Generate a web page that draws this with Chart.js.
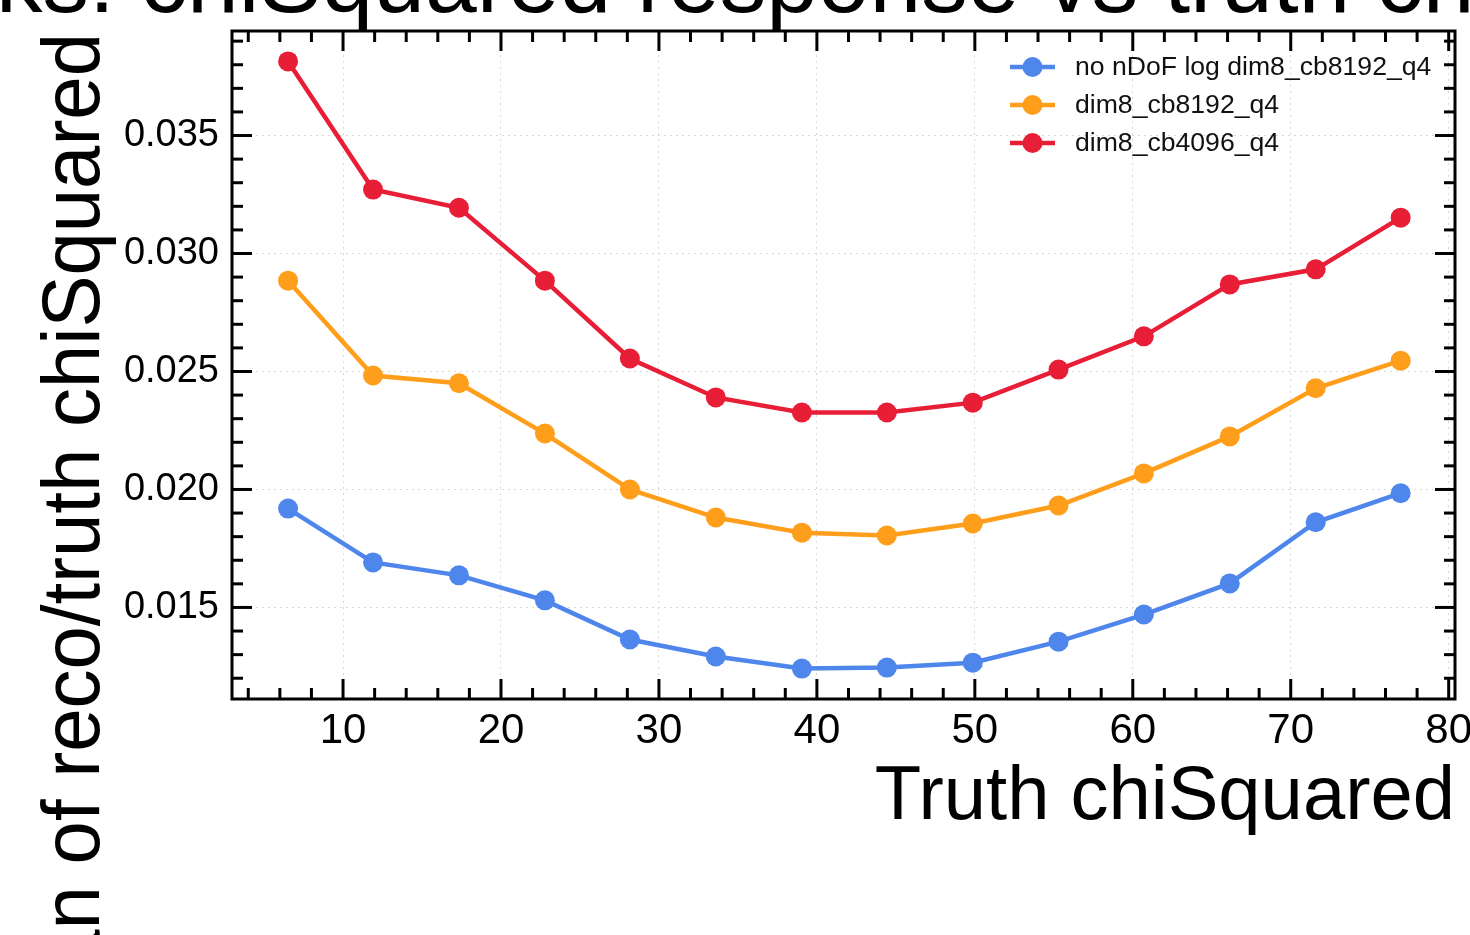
<!DOCTYPE html>
<html>
<head>
<meta charset="utf-8">
<script src="https://cdn.jsdelivr.net/npm/chart.js@4.4.1/dist/chart.umd.min.js"></script>
<style>
  html, body { margin: 0; padding: 0; background: #fff; overflow: hidden; }
  #wrap { position: relative; width: 1470px; height: 935px; }
</style>
</head>
<body>
<div id="wrap"><canvas id="chiChart" width="1470" height="935"></canvas></div>
<script>
// data
const truthChi = [6.52, 11.9, 17.34, 22.78, 28.16, 33.6, 39.05, 44.43, 49.87, 55.3, 60.7, 66.14, 71.58, 76.96];
const respNoNdof8192 = [0.01919, 0.01691, 0.01636, 0.01530, 0.01364, 0.01292, 0.01241, 0.01245, 0.01266, 0.01355, 0.01470, 0.01602, 0.01861, 0.01984];
const resp8192 = [0.02885, 0.02483, 0.02450, 0.02237, 0.02000, 0.01881, 0.01817, 0.01805, 0.01856, 0.01932, 0.02068, 0.02225, 0.02429, 0.02546];
const resp4096 = [0.03814, 0.03271, 0.03194, 0.02885, 0.02555, 0.02390, 0.02326, 0.02326, 0.02368, 0.02508, 0.02649, 0.02869, 0.02933, 0.03152];

const seriesNames = ['no nDoF log dim8_cb8192_q4', 'dim8_cb8192_q4', 'dim8_cb4096_q4'];
const seriesColors = ['#4e86ec', '#ff9e1b', '#e81e37'];

const xTicks = [10, 20, 30, 40, 50, 60, 70, 80];
const xTickLabels = ['10', '20', '30', '40', '50', '60', '70', '80'];
const yTicks = [0.015, 0.020, 0.025, 0.030, 0.035];
const yTickLabels = ['0.015', '0.020', '0.025', '0.030', '0.035'];
const xMinorStep = 2;
const yMinorStep = 0.001;

const titleText = 'Tracks: chiSquared response vs truth chiSquared';
const xTitle = 'Truth chiSquared';
const yTitle = 'Mean of reco/truth chiSquared';

const FONT = "'Liberation Sans', Arial, Helvetica, sans-serif";

function makeSeries(values) {
    return truthChi.map((x, i) => ({ x: x, y: values[i] }));
}

const allSeries = [respNoNdof8192, resp8192, resp4096];
const datasets = allSeries.map((vals, i) => ({
    label: seriesNames[i],
    data: makeSeries(vals),
    borderColor: seriesColors[i],
    backgroundColor: seriesColors[i],
    borderWidth: 4.5,
    pointRadius: 10,
    pointBorderWidth: 0,
    pointHoverRadius: 10,
    tension: 0,
    fill: false,
    order: 3 - i
}));

// ticks pointing inwards on all four sides, plus the frame
const frameTicks = {
    id: 'frameTicks',
    afterDatasetsDraw(chart) {
        const ctx = chart.ctx;
        const a = chart.chartArea;
        const xs = chart.scales.x;
        const ys = chart.scales.y;
        const majLen = 20, minLen = 11;
        ctx.save();
        ctx.strokeStyle = '#000';
        ctx.lineWidth = 3;
        ctx.lineCap = 'butt';

        const line = (x1, y1, x2, y2) => {
            ctx.beginPath(); ctx.moveTo(x1, y1); ctx.lineTo(x2, y2); ctx.stroke();
        };
        const xTick = (v, len) => {
            const px = xs.getPixelForValue(v);
            line(px, a.bottom, px, a.bottom - len);
            line(px, a.top, px, a.top + len);
        };
        const yTick = (v, len) => {
            const py = ys.getPixelForValue(v);
            line(a.left, py, a.left + len, py);
            line(a.right, py, a.right - len, py);
        };

        for (let k = Math.ceil(xs.min / xMinorStep); k * xMinorStep <= xs.max; k++) {
            const v = k * xMinorStep;
            if (!xTicks.some(t => Math.abs(t - v) < 1e-9)) xTick(v, minLen);
        }
        xTicks.forEach(v => xTick(v, majLen));

        for (let k = Math.ceil(ys.min / yMinorStep); k * yMinorStep <= ys.max; k++) {
            const v = k * yMinorStep;
            if (!yTicks.some(t => Math.abs(t - v) < 1e-9)) yTick(v, minLen);
        }
        yTicks.forEach(v => yTick(v, majLen));

        ctx.strokeRect(a.left, a.top, a.right - a.left, a.bottom - a.top);
        ctx.restore();
    },
    afterDraw(chart) {
        const ctx = chart.ctx;
        ctx.save();
        ctx.fillStyle = '#000';

        // title, mostly above the visible area
        ctx.font = '93px ' + FONT;
        ctx.textAlign = 'center';
        ctx.textBaseline = 'alphabetic';
        ctx.fillText(titleText, 830, 12);

        // y axis label, aligned to the top of the axes
        ctx.save();
        ctx.translate(99, 33);
        ctx.rotate(-Math.PI / 2);
        ctx.scale(0.95, 1);
        ctx.font = '82px ' + FONT;
        ctx.textAlign = 'right';
        ctx.fillText(yTitle, 0, 0);
        ctx.restore();

        // legend
        const rowY = [67, 105, 143];
        ctx.font = '26.6px ' + FONT;
        ctx.textAlign = 'left';
        ctx.textBaseline = 'middle';
        chart.data.datasets.forEach((ds, i) => {
            const y = rowY[i];
            ctx.strokeStyle = ds.borderColor;
            ctx.lineWidth = 4.5;
            ctx.beginPath(); ctx.moveTo(1010, y); ctx.lineTo(1055, y); ctx.stroke();
            ctx.fillStyle = ds.backgroundColor;
            ctx.beginPath(); ctx.arc(1032.5, y, 10, 0, Math.PI * 2); ctx.fill();
            ctx.fillStyle = '#111';
            ctx.fillText(ds.label, 1075, y + 1);
        });
        ctx.restore();
    }
};

const ctx = document.getElementById('chiChart').getContext('2d');
const chiChart = new Chart(ctx, {
    type: 'line',
    data: { datasets: datasets },
    options: {
        responsive: false,
        maintainAspectRatio: false,
        animation: false,
        layout: { padding: { top: 31, right: 15, left: 0, bottom: 0 } },
        plugins: {
            legend: { display: false },
            tooltip: { enabled: false }
        },
        scales: {
            x: {
                type: 'linear',
                min: 2.97,
                max: 80.4,
                afterBuildTicks: (s) => { s.ticks = xTicks.map(v => ({ value: v })); },
                afterFit: (s) => { s.height = 236; s.paddingLeft = 0; s.paddingRight = 0; },
                ticks: {
                    padding: 7,
                    color: '#000',
                    maxRotation: 0,
                    autoSkip: false,
                    font: { family: "'Liberation Sans Narrow', " + FONT, size: 42 },
                    callback: (v) => xTickLabels[xTicks.indexOf(v)]
                },
                grid: { color: '#d9d9d9', lineWidth: 1, drawTicks: false },
                border: { display: false, dash: [2, 4] },
                title: {
                    display: true,
                    text: xTitle,
                    align: 'end',
                    color: '#000',
                    font: { family: FONT, size: 76 },
                    padding: { top: 0, bottom: 91 }
                }
            },
            y: {
                type: 'linear',
                min: 0.01112,
                max: 0.03943,
                afterBuildTicks: (s) => { s.ticks = yTicks.map(v => ({ value: v })); },
                afterFit: (s) => { s.width = 232; s.paddingTop = 0; s.paddingBottom = 0; },
                ticks: {
                    padding: 13,
                    color: '#000',
                    autoSkip: false,
                    font: { family: FONT, size: 38 },
                    callback: (v) => yTickLabels[yTicks.findIndex(t => Math.abs(t - v) < 1e-9)]
                },
                grid: { color: '#d9d9d9', lineWidth: 1, drawTicks: false },
                border: { display: false, dash: [2, 4] }
            }
        }
    },
    plugins: [frameTicks]
});
</script>
</body>
</html>
